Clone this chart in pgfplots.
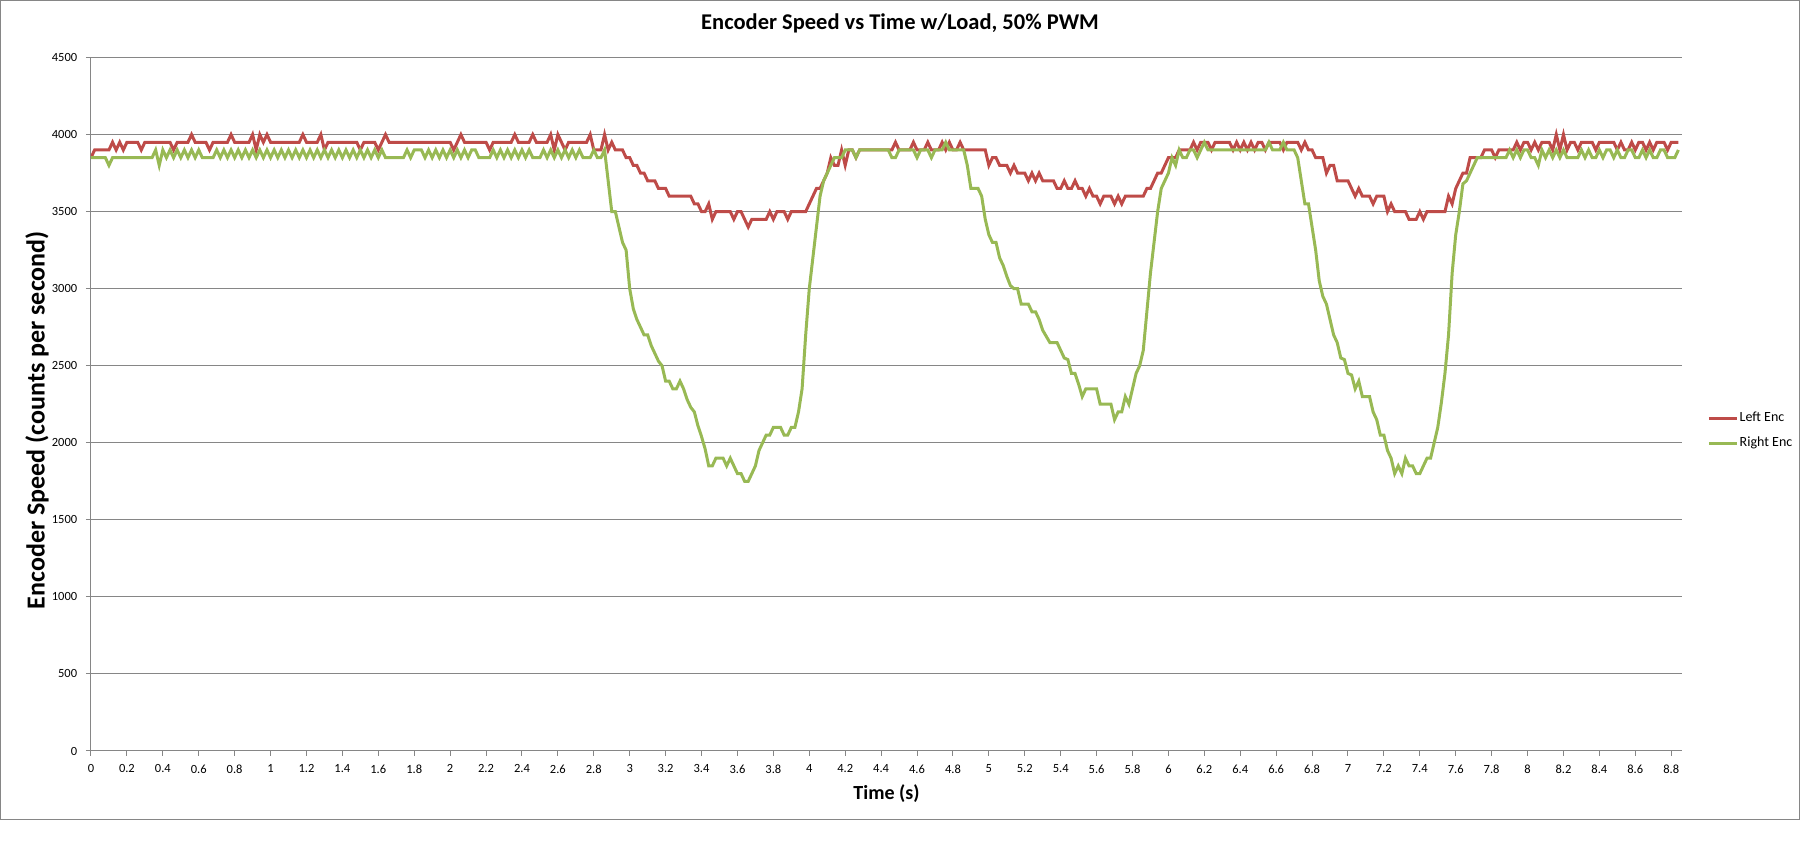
\documentclass[border=0pt]{standalone}
\usepackage{fontspec}
\setmainfont{Carlito}
\usepackage{pgfplots}
\usepackage{pgfplotstable}
\pgfplotsset{compat=1.18}
\definecolor{leftred}{RGB}{190,75,72}
\definecolor{rightgreen}{RGB}{152,185,84}
\definecolor{gridgray}{RGB}{134,134,134}

% Left encoder, one sample every 0.02 s
\pgfplotstableread[row sep=\\,header=false]{
3850\\3900\\3900\\3900\\3900\\3900\\3950\\3900\\3950\\3900\\
3950\\3950\\3950\\3950\\3900\\3950\\3950\\3950\\3950\\3950\\
3950\\3950\\3950\\3900\\3950\\3950\\3950\\3950\\4000\\3950\\
3950\\3950\\3950\\3900\\3950\\3950\\3950\\3950\\3950\\4000\\
3950\\3950\\3950\\3950\\3950\\4000\\3900\\4000\\3950\\4000\\
3950\\3950\\3950\\3950\\3950\\3950\\3950\\3950\\3950\\4000\\
3950\\3950\\3950\\3950\\4000\\3900\\3950\\3950\\3950\\3950\\
3950\\3950\\3950\\3950\\3950\\3900\\3950\\3950\\3950\\3950\\
3900\\3950\\4000\\3950\\3950\\3950\\3950\\3950\\3950\\3950\\
3950\\3950\\3950\\3950\\3950\\3950\\3950\\3950\\3950\\3950\\
3950\\3900\\3950\\4000\\3950\\3950\\3950\\3950\\3950\\3950\\
3950\\3900\\3950\\3950\\3950\\3950\\3950\\3950\\4000\\3950\\
3950\\3950\\3950\\4000\\3950\\3950\\3950\\3950\\4000\\3900\\
4000\\3950\\3900\\3950\\3950\\3950\\3950\\3950\\3950\\4000\\
3900\\3900\\3900\\4000\\3900\\3950\\3900\\3900\\3900\\3850\\
3850\\3800\\3800\\3750\\3750\\3700\\3700\\3700\\3650\\3650\\
3650\\3600\\3600\\3600\\3600\\3600\\3600\\3600\\3550\\3550\\
3500\\3500\\3550\\3450\\3500\\3500\\3500\\3500\\3500\\3450\\
3500\\3500\\3450\\3400\\3450\\3450\\3450\\3450\\3450\\3500\\
3450\\3500\\3500\\3500\\3450\\3500\\3500\\3500\\3500\\3500\\
3550\\3600\\3650\\3650\\3700\\3750\\3850\\3800\\3800\\3900\\
3800\\3900\\3900\\3850\\3900\\3900\\3900\\3900\\3900\\3900\\
3900\\3900\\3900\\3900\\3950\\3900\\3900\\3900\\3900\\3950\\
3900\\3900\\3900\\3950\\3900\\3900\\3900\\3950\\3900\\3950\\
3900\\3900\\3950\\3900\\3900\\3900\\3900\\3900\\3900\\3900\\
3800\\3850\\3850\\3800\\3800\\3800\\3750\\3800\\3750\\3750\\
3750\\3700\\3750\\3700\\3750\\3700\\3700\\3700\\3700\\3650\\
3650\\3700\\3650\\3650\\3700\\3650\\3650\\3600\\3650\\3600\\
3600\\3550\\3600\\3600\\3600\\3550\\3600\\3550\\3600\\3600\\
3600\\3600\\3600\\3600\\3650\\3650\\3700\\3750\\3750\\3800\\
3850\\3850\\3850\\3900\\3900\\3900\\3900\\3950\\3900\\3950\\
3950\\3950\\3900\\3950\\3950\\3950\\3950\\3950\\3900\\3950\\
3900\\3950\\3900\\3950\\3900\\3950\\3950\\3900\\3950\\3950\\
3950\\3950\\3900\\3950\\3950\\3950\\3950\\3900\\3950\\3900\\
3900\\3850\\3850\\3850\\3750\\3800\\3800\\3700\\3700\\3700\\
3700\\3650\\3600\\3650\\3600\\3600\\3600\\3550\\3600\\3600\\
3600\\3500\\3550\\3500\\3500\\3500\\3500\\3450\\3450\\3450\\
3500\\3450\\3500\\3500\\3500\\3500\\3500\\3500\\3600\\3550\\
3650\\3700\\3750\\3750\\3850\\3850\\3850\\3850\\3900\\3900\\
3900\\3850\\3900\\3900\\3900\\3900\\3900\\3950\\3900\\3950\\
3950\\3900\\3950\\3900\\3950\\3950\\3950\\3900\\4000\\3900\\
4000\\3900\\3950\\3950\\3900\\3950\\3950\\3950\\3950\\3900\\
3950\\3950\\3950\\3950\\3950\\3900\\3950\\3900\\3900\\3950\\
3900\\3950\\3950\\3900\\3950\\3900\\3950\\3950\\3950\\3900\\
3950\\3950\\3950\\
}\lefttab

% Right encoder, one sample every 0.02 s
\pgfplotstableread[row sep=\\,header=false]{
3850\\3850\\3850\\3850\\3850\\3800\\3850\\3850\\3850\\3850\\
3850\\3850\\3850\\3850\\3850\\3850\\3850\\3850\\3900\\3800\\
3900\\3850\\3900\\3850\\3900\\3850\\3900\\3850\\3900\\3850\\
3900\\3850\\3850\\3850\\3850\\3900\\3850\\3900\\3850\\3900\\
3850\\3900\\3850\\3900\\3850\\3900\\3850\\3900\\3850\\3900\\
3850\\3900\\3850\\3900\\3850\\3900\\3850\\3900\\3850\\3900\\
3850\\3900\\3850\\3900\\3850\\3900\\3850\\3900\\3850\\3900\\
3850\\3900\\3850\\3900\\3850\\3900\\3850\\3900\\3850\\3900\\
3850\\3900\\3850\\3850\\3850\\3850\\3850\\3850\\3900\\3850\\
3900\\3900\\3900\\3850\\3900\\3850\\3900\\3850\\3900\\3850\\
3900\\3850\\3900\\3850\\3900\\3850\\3900\\3900\\3850\\3850\\
3850\\3850\\3900\\3850\\3900\\3850\\3900\\3850\\3900\\3850\\
3900\\3850\\3900\\3850\\3850\\3850\\3900\\3850\\3900\\3850\\
3900\\3850\\3900\\3850\\3900\\3850\\3900\\3850\\3850\\3850\\
3900\\3850\\3850\\3900\\3700\\3500\\3500\\3400\\3300\\3250\\
3000\\2870\\2800\\2750\\2700\\2700\\2630\\2580\\2530\\2500\\
2400\\2400\\2350\\2350\\2400\\2350\\2280\\2230\\2200\\2110\\
2040\\1960\\1850\\1850\\1900\\1900\\1900\\1850\\1900\\1850\\
1800\\1800\\1750\\1750\\1800\\1850\\1950\\2000\\2050\\2050\\
2100\\2100\\2100\\2050\\2050\\2100\\2100\\2200\\2350\\2700\\
3000\\3200\\3400\\3600\\3700\\3750\\3800\\3850\\3850\\3850\\
3900\\3900\\3900\\3850\\3900\\3900\\3900\\3900\\3900\\3900\\
3900\\3900\\3900\\3850\\3850\\3900\\3900\\3900\\3900\\3900\\
3850\\3900\\3900\\3900\\3850\\3900\\3900\\3900\\3950\\3900\\
3900\\3900\\3900\\3900\\3800\\3650\\3650\\3650\\3600\\3450\\
3350\\3300\\3300\\3200\\3150\\3080\\3020\\3000\\3000\\2900\\
2900\\2900\\2850\\2850\\2800\\2730\\2690\\2650\\2650\\2650\\
2600\\2550\\2540\\2450\\2450\\2380\\2300\\2350\\2350\\2350\\
2350\\2250\\2250\\2250\\2250\\2150\\2200\\2200\\2300\\2250\\
2350\\2450\\2500\\2600\\2850\\3100\\3300\\3500\\3650\\3700\\
3750\\3850\\3800\\3900\\3850\\3850\\3900\\3900\\3850\\3900\\
3950\\3900\\3900\\3900\\3900\\3900\\3900\\3900\\3900\\3900\\
3900\\3900\\3900\\3900\\3900\\3900\\3900\\3900\\3950\\3900\\
3900\\3900\\3950\\3900\\3900\\3900\\3850\\3700\\3550\\3550\\
3400\\3250\\3050\\2950\\2900\\2800\\2700\\2650\\2550\\2540\\
2450\\2440\\2350\\2400\\2300\\2300\\2300\\2200\\2150\\2050\\
2050\\1950\\1900\\1800\\1850\\1800\\1900\\1850\\1850\\1800\\
1800\\1850\\1900\\1900\\2000\\2100\\2260\\2450\\2700\\3100\\
3350\\3500\\3680\\3700\\3750\\3800\\3850\\3850\\3850\\3850\\
3850\\3850\\3850\\3850\\3850\\3900\\3850\\3900\\3850\\3900\\
3900\\3850\\3850\\3800\\3900\\3850\\3900\\3850\\3900\\3850\\
3900\\3850\\3850\\3850\\3850\\3900\\3850\\3900\\3850\\3850\\
3900\\3850\\3900\\3900\\3850\\3900\\3850\\3850\\3900\\3900\\
3850\\3850\\3900\\3850\\3900\\3850\\3850\\3900\\3900\\3850\\
3850\\3850\\3900\\
}\righttab

\begin{document}
\begin{tikzpicture}
\useasboundingbox (0,0) rectangle (721.2pt,345.6pt);
\draw[gridgray, line width=0.4pt] (0.4pt,17.6pt) rectangle (719.6pt,345.2pt);
\begin{axis}[
  at={(36.4pt,45.2pt)}, anchor=south west,
  scale only axis, width=636.4pt, height=277.4pt,
  xmin=0, xmax=8.86, ymin=0, ymax=4500,
  axis lines=left,
  axis line style={-, draw=gridgray, line width=0.4pt},
  ymajorgrids,
  grid style={draw=gridgray, line width=0.4pt},
  tick align=outside, major tick length=2pt,
  every tick/.style={draw=gridgray, line width=0.4pt},
  ytick={0,500,...,4500},
  xtick={0,0.2,0.4,0.6,0.8,1,1.2,1.4,1.6,1.8,2,2.2,2.4,2.6,2.8,3,3.2,3.4,3.6,3.8,4,4.2,4.4,4.6,4.8,5,5.2,5.4,5.6,5.8,6,6.2,6.4,6.6,6.8,7,7.2,7.4,7.6,7.8,8,8.2,8.4,8.6,8.8},
  /pgf/number format/assume math mode=true,
  /pgf/number format/1000 sep={},
  tick label style={font=\fontsize{5}{6}\selectfont, text=black},
  xticklabel style={/pgf/number format/fixed, /pgf/number format/precision=1},
  every axis title shift=0pt,
  title={Encoder Speed vs Time w/Load, 50\% PWM},
  title style={at={(axis description cs:0.5085,1.0498)}, anchor=center, font=\fontsize{9}{11}\selectfont\bfseries},
  xlabel={Time (s)},
  xlabel style={at={(axis description cs:0.5,-0.062)}, anchor=center, font=\fontsize{8}{10}\selectfont\bfseries},
  ylabel={Encoder Speed (counts per second)},
  ylabel style={at={(axis description cs:-0.034,0.477)}, anchor=center, font=\fontsize{10.4}{12}\selectfont\bfseries},
  legend style={at={(axis description cs:1.0157,0.4614)}, anchor=west, draw=none, fill=none, inner sep=0pt,
    font=\fontsize{5.6}{6.7}\selectfont, row sep=3.4pt, nodes={inner sep=0.5pt}},
  legend cell align=left,
  legend image code/.code={\draw[#1, line width=1.2pt] (0pt,0pt) -- (11.2pt,0pt);},
]
\addplot[leftred, line width=1.2pt] table[x expr=\coordindex*0.02, y index=0]{\lefttab};
\addlegendentry{Left Enc}
\addplot[rightgreen, line width=1.2pt] table[x expr=\coordindex*0.02, y index=0]{\righttab};
\addlegendentry{Right Enc}
\end{axis}
\end{tikzpicture}
\end{document}
